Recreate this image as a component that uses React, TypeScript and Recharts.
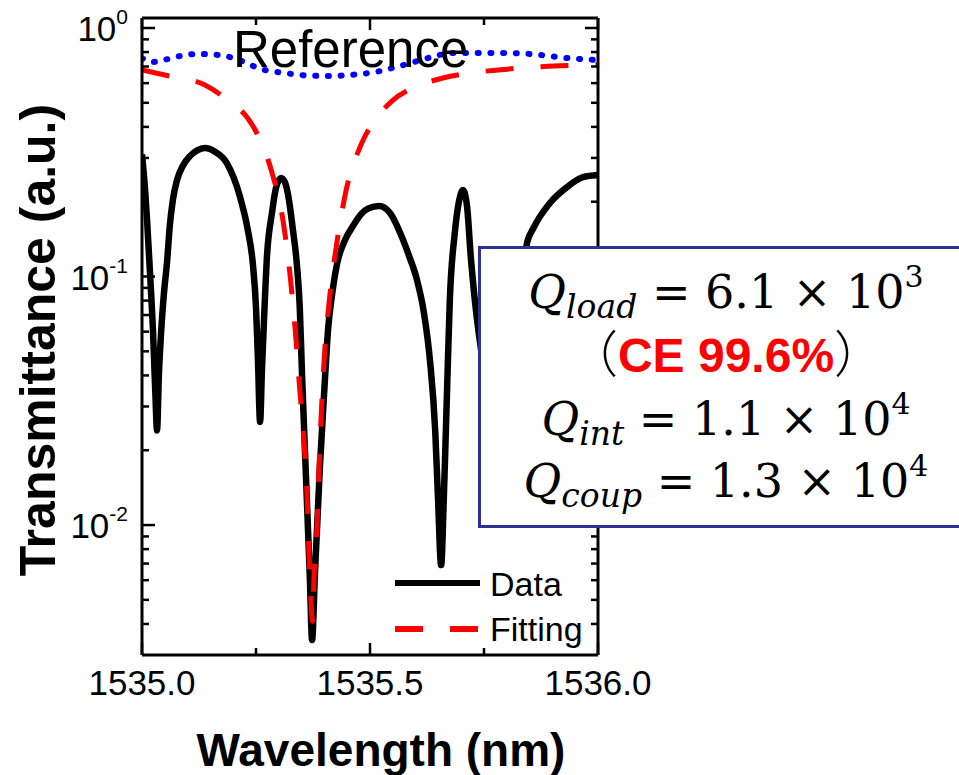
import React from 'react';
import { LineChart, Line, XAxis, YAxis, Legend } from 'recharts';

// measured transmission (black), wavelength in nm
const dataWavelength = [
  1535.0, 1535.007, 1535.011, 1535.018, 1535.024, 1535.029, 1535.033, 1535.037, 1535.042, 1535.048,
  1535.055, 1535.061, 1535.068, 1535.077, 1535.09, 1535.105, 1535.121, 1535.138, 1535.16, 1535.186,
  1535.215, 1535.232, 1535.243, 1535.25, 1535.254, 1535.259, 1535.263, 1535.268, 1535.274, 1535.285,
  1535.294, 1535.305, 1535.314, 1535.32, 1535.331, 1535.34, 1535.346, 1535.351, 1535.36, 1535.368,
  1535.373, 1535.379, 1535.39, 1535.401, 1535.408, 1535.417, 1535.428, 1535.445, 1535.463, 1535.48,
  1535.496, 1535.52, 1535.544, 1535.566, 1535.585, 1535.603, 1535.618, 1535.632, 1535.643, 1535.649,
  1535.656, 1535.662, 1535.669, 1535.675, 1535.686, 1535.695, 1535.704, 1535.713, 1535.721, 1535.73,
  1535.752, 1535.785, 1535.818, 1535.846, 1535.857, 1535.895, 1535.932, 1535.967, 1536.0,
];
const dataTransmittance = [
  0.31, 0.22, 0.17, 0.1, 0.061, 0.035, 0.024, 0.04, 0.06, 0.085,
  0.115, 0.16, 0.205, 0.245, 0.28, 0.305, 0.322, 0.329, 0.318, 0.286,
  0.209, 0.154, 0.113, 0.075, 0.048, 0.026, 0.042, 0.07, 0.12, 0.18,
  0.228, 0.249, 0.238, 0.215, 0.154, 0.11, 0.075, 0.04, 0.015, 0.0062,
  0.00345, 0.0062, 0.017, 0.038, 0.061, 0.085, 0.113, 0.14, 0.16, 0.178,
  0.188, 0.192, 0.18, 0.15, 0.122, 0.097, 0.072, 0.045, 0.024, 0.013,
  0.0069, 0.013, 0.035, 0.08, 0.15, 0.2, 0.223, 0.19, 0.12, 0.08,
  0.04, 0.02, 0.06, 0.14, 0.155, 0.198, 0.229, 0.251, 0.256,
];

// Lorentzian fit (red dashed)
const fitWavelength = [
  1535.0, 1535.05, 1535.138, 1535.193, 1535.23, 1535.259, 1535.285, 1535.309, 1535.325, 1535.336,
  1535.346, 1535.355, 1535.362, 1535.366, 1535.371, 1535.374, 1535.377, 1535.384, 1535.388, 1535.393,
  1535.399, 1535.412, 1535.425, 1535.445, 1535.48, 1535.511, 1535.548, 1535.599, 1535.66, 1535.719,
  1535.781, 1535.901, 1536.0,
];
const fitTransmittance = [
  0.678, 0.647, 0.59, 0.504, 0.438, 0.355, 0.262, 0.169, 0.1, 0.061,
  0.035, 0.022, 0.0132, 0.0079, 0.0048, 0.0041, 0.006, 0.01, 0.0166, 0.0277,
  0.045, 0.084, 0.128, 0.211, 0.338, 0.426, 0.508, 0.579, 0.629, 0.659,
  0.678, 0.703, 0.712,
];

// reference waveguide (blue dotted)
const refWavelength = [
  1535.0, 1535.024, 1535.05, 1535.083, 1535.121, 1535.167, 1535.2, 1535.23, 1535.259, 1535.281,
  1535.314, 1535.346, 1535.412, 1535.456, 1535.511, 1535.566, 1535.627, 1535.682, 1535.73, 1535.8,
  1535.851, 1535.932, 1536.0,
];
const refTransmittance = [
  0.757, 0.73, 0.745, 0.771, 0.786, 0.779, 0.757, 0.723, 0.684, 0.671,
  0.659, 0.647, 0.641, 0.647, 0.665, 0.703, 0.757, 0.793, 0.793, 0.793,
  0.786, 0.757, 0.743,
];

const xTicks = [1535, 1535.25, 1535.5, 1535.75, 1536];
const xLabelled = [1535, 1535.5, 1536];
const yMajor = [0.01, 0.1, 1];
const yMinor = [
  0.004, 0.005, 0.006, 0.007, 0.008, 0.009,
  0.02, 0.03, 0.04, 0.05, 0.06, 0.07, 0.08, 0.09,
  0.2, 0.3, 0.4, 0.5, 0.6, 0.7, 0.8, 0.9,
];

const toRows = (wl: number[], t: number[]) => wl.map((w, i) => ({ wl: w, t: t[i] }));
const dataRows = toRows(dataWavelength, dataTransmittance);
const fitRows = toRows(fitWavelength, fitTransmittance);
const refRows = toRows(refWavelength, refTransmittance);

const FONT = "'Liberation Sans', Arial, sans-serif";
const yTicks = [...yMinor, ...yMajor].sort((a, b) => a - b);

const LeftTick = ({ x, y, payload }: any) => {
  const major = yMajor.includes(payload.value);
  return (
    <g>
      <line x1={x} x2={x + (major ? 13 : 7)} y1={y} y2={y} stroke="#000" strokeWidth={2.5} />
      {major && (
        <text x={x - 14} y={y + 13} textAnchor="end" fontFamily={FONT} fontSize={35} fill="#000">
          10
          <tspan fontSize={21} dy={-17}>
            {Math.round(Math.log10(payload.value))}
          </tspan>
        </text>
      )}
    </g>
  );
};

const RightTick = ({ x, y, payload }: any) => {
  const major = yMajor.includes(payload.value);
  return <line x1={x} x2={x - (major ? 13 : 7)} y1={y} y2={y} stroke="#000" strokeWidth={2.5} />;
};

const BottomTick = ({ x, y, payload }: any) => {
  const major = xLabelled.includes(payload.value);
  return (
    <g>
      <line x1={x} x2={x} y1={y} y2={y - (major ? 12 : 7)} stroke="#000" strokeWidth={2.5} />
      {major && (
        <text x={x} y={y + 40} textAnchor="middle" fontFamily={FONT} fontSize={35} fill="#000">
          {payload.value.toFixed(1)}
        </text>
      )}
    </g>
  );
};

const TopTick = ({ x, y, payload }: any) => {
  const major = xLabelled.includes(payload.value);
  return <line x1={x} x2={x} y1={y} y2={y + (major ? 12 : 7)} stroke="#000" strokeWidth={2.5} />;
};

const LegendContent = ({ payload }: any) => {
  const items = (payload || []).filter((p: any) => p.type !== 'none');
  return (
    <svg width={215} height={95}>
      {items.map((p: any, i: number) => (
        <g key={p.value}>
          <line
            x1={5}
            x2={90}
            y1={23 + i * 46}
            y2={23 + i * 46}
            stroke={p.color}
            strokeWidth={6}
            strokeDasharray={p.payload?.strokeDasharray}
          />
          <text x={100} y={36 + i * 45} fontFamily={FONT} fontSize={34} fill="#000">
            {p.value}
          </text>
        </g>
      ))}
    </svg>
  );
};

const axisLine = { stroke: '#000', strokeWidth: 3 };

export default function App() {
  return (
    <div style={{ position: 'absolute', left: 0, top: 0, width: 959, height: 775, overflow: 'hidden', background: '#fff' }}>
      <LineChart width={959} height={775} margin={{ top: 10, right: 341, bottom: 80, left: 82 }}>
        <XAxis
          xAxisId="bottom"
          type="number"
          dataKey="wl"
          domain={[1535, 1536]}
          ticks={xTicks}
          interval={0}
          height={40}
          tickSize={0}
          tickMargin={0}
          tickLine={false}
          axisLine={axisLine}
          tick={<BottomTick />}
          allowDataOverflow
        />
        <XAxis
          xAxisId="top"
          orientation="top"
          type="number"
          dataKey="wl"
          domain={[1535, 1536]}
          ticks={xTicks}
          interval={0}
          height={8}
          tickSize={0}
          tickMargin={0}
          tickLine={false}
          axisLine={axisLine}
          tick={<TopTick />}
          allowDataOverflow
        />
        <YAxis
          yAxisId="left"
          type="number"
          scale="log"
          domain={[0.003, 1.097]}
          ticks={yTicks}
          interval={0}
          width={60}
          tickSize={0}
          tickMargin={0}
          tickLine={false}
          axisLine={axisLine}
          tick={<LeftTick />}
          allowDataOverflow
        />
        <YAxis
          yAxisId="right"
          orientation="right"
          type="number"
          scale="log"
          domain={[0.003, 1.097]}
          ticks={yTicks}
          interval={0}
          width={20}
          tickSize={0}
          tickMargin={0}
          tickLine={false}
          axisLine={axisLine}
          tick={<RightTick />}
          allowDataOverflow
        />
        <Line
          xAxisId="top"
          yAxisId="right"
          data={refRows}
          dataKey="t"
          name="Reference"
          type="monotone"
          stroke="#0000ff"
          strokeWidth={6}
          strokeDasharray="1 11.7"
          strokeLinecap="round"
          dot={false}
          legendType="none"
          isAnimationActive={false}
        />
        <Line
          xAxisId="bottom"
          yAxisId="left"
          data={dataRows}
          dataKey="t"
          name="Data"
          type="monotone"
          stroke="#000"
          strokeWidth={6.5}
          dot={false}
          isAnimationActive={false}
        />
        <Line
          xAxisId="bottom"
          yAxisId="left"
          data={fitRows}
          dataKey="t"
          name="Fitting"
          type="monotone"
          stroke="#ff0000"
          strokeWidth={5}
          strokeDasharray="28 27"
          dot={false}
          isAnimationActive={false}
        />
        <Legend
          layout="vertical"
          align="center"
          verticalAlign="middle"
          content={<LegendContent />}
          wrapperStyle={{ left: 390, top: 560, width: 215, height: 95 }}
        />
      </LineChart>
      <svg
        width={959}
        height={775}
        style={{ position: 'absolute', left: 0, top: 0, pointerEvents: 'none' }}
      >
        <text x={233} y={67} fontFamily={FONT} fontSize={51} fill="#000">
          Reference
        </text>
        <text x={381} y={766} textAnchor="middle" fontFamily={FONT} fontWeight="bold" fontSize={46} fill="#000">
          Wavelength (nm)
        </text>
        <text
          transform="translate(55,340) rotate(-90)"
          textAnchor="middle"
          fontFamily={FONT}
          fontWeight="bold"
          fontSize={50}
          fill="#000"
        >
          Transmittance (a.u.)
        </text>
        <rect x={479.5} y={247.5} width={500} height={279} fill="#fff" stroke="#2e3192" strokeWidth={3} />
        <g fontFamily="'DejaVu Serif', 'Liberation Serif', serif" fontSize={46} fill="#000" textAnchor="middle">
          <text x={726} y={308}>
            <tspan fontStyle="italic">Q</tspan>
            <tspan fontStyle="italic" fontSize={33} dy={10}>load</tspan>
            <tspan dy={-10}> = 6.1 × 10</tspan>
            <tspan fontSize={30} dy={-21}>3</tspan>
          </text>
          <text x={726} y={372}>
            <tspan fontFamily="'Noto Sans CJK SC'" fontWeight={300} fontSize={50}>（</tspan>
            <tspan fontFamily={FONT} fontWeight="bold" fontSize={48} fill="#ff0000">CE 99.6%</tspan>
            <tspan fontFamily="'Noto Sans CJK SC'" fontWeight={300} fontSize={50}>）</tspan>
          </text>
          <text x={726} y={435}>
            <tspan fontStyle="italic">Q</tspan>
            <tspan fontStyle="italic" fontSize={33} dy={10}>int</tspan>
            <tspan dy={-10}> = 1.1 × 10</tspan>
            <tspan fontSize={30} dy={-21}>4</tspan>
          </text>
          <text x={726} y={497}>
            <tspan fontStyle="italic">Q</tspan>
            <tspan fontStyle="italic" fontSize={33} dy={10}>coup</tspan>
            <tspan dy={-10}> = 1.3 × 10</tspan>
            <tspan fontSize={30} dy={-21}>4</tspan>
          </text>
        </g>
      </svg>
    </div>
  );
}
